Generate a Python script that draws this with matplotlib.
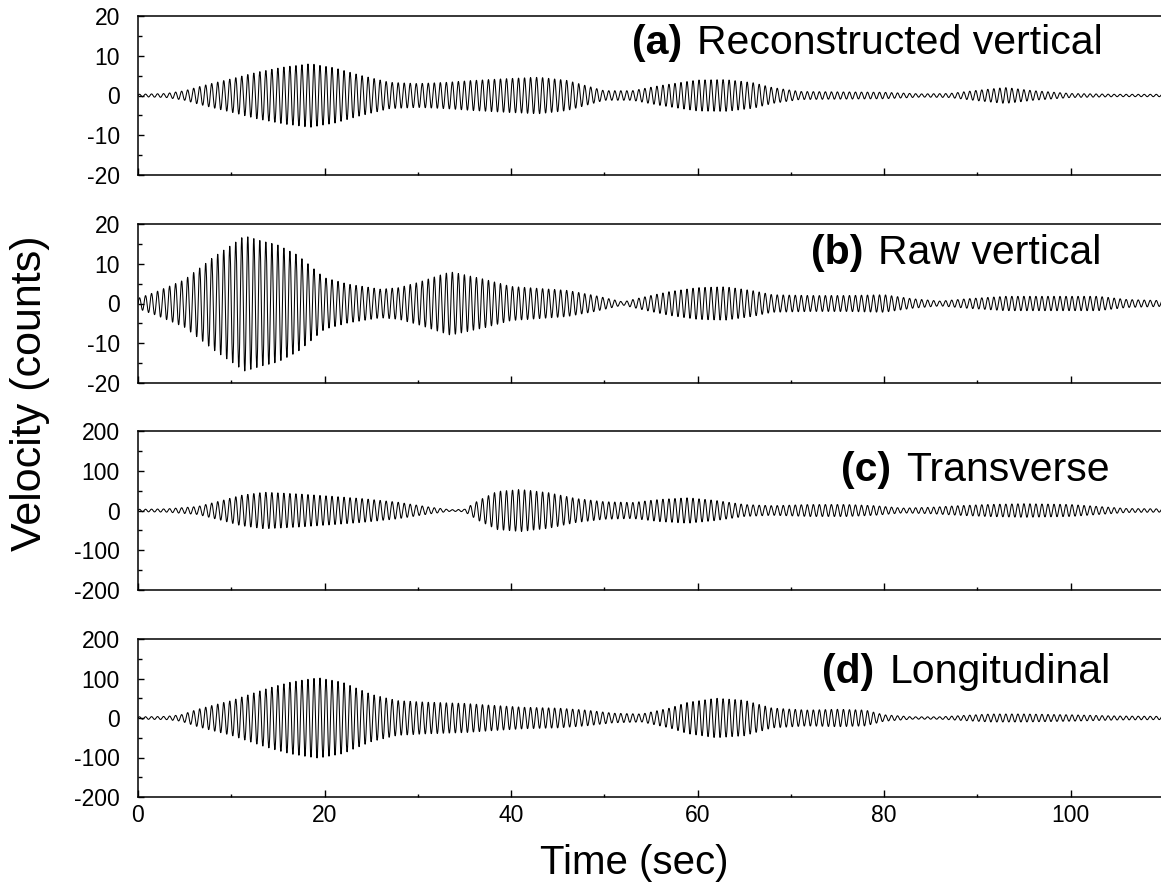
import numpy as np
import matplotlib
matplotlib.use("Agg")
import matplotlib.pyplot as plt
from matplotlib.ticker import MultipleLocator

plt.rcParams['font.family'] = ['Liberation Sans', 'DejaVu Sans']
plt.rcParams['axes.unicode_minus'] = False

# carrier of the wave trains, Hz (counted off the picture)
carrier_hz = 1.55

# envelope (half peak-to-peak amplitude), time in sec
t_a = [0, 3, 5, 7, 10, 13, 16, 18.5, 21, 24, 27, 30, 33, 36, 40, 43, 46, 48, 50,
       53, 56, 60, 63, 66, 68, 71, 75, 80, 84, 87, 90, 93, 96, 100, 105, 110]
amp_a = [0.3, 0.5, 1.2, 2.5, 4.2, 6, 7.3, 8, 7, 5, 3.3, 3, 3.3, 3.8, 4.3, 4.6, 3.8, 2.5, 1.2,
         1.2, 2.5, 3.9, 4, 3.2, 2, 1, 0.9, 0.8, 0.4, 0.5, 1.3, 2, 1.2, 0.5, 0.3, 0.3]

t_b = [0, 2, 5, 8, 11.4, 15, 17, 20, 22.5, 26, 28, 30, 33.5, 37, 40, 43, 46, 49, 52,
       54, 57, 60, 63, 66, 68, 72, 76, 80, 83, 86, 89, 93, 98, 103, 106, 110]
amp_b = [1.3, 3, 6, 11.5, 17, 14.7, 12.4, 6.5, 4.9, 3.6, 4, 5.3, 8, 6.2, 4.3, 3.8, 3.3, 2, 0.4,
         1.5, 3, 4, 4.2, 3.2, 2.2, 2, 2, 2.2, 1.2, 0.6, 1.2, 1.8, 1.8, 1.8, 1, 0.7]

t_c = [0, 3, 6.4, 9, 11, 13.5, 17, 20.7, 24, 27.8, 31.4, 33.5, 35, 36.5, 38.5, 41, 44, 47,
       50, 53, 56, 59, 62, 65, 68, 72, 76, 79, 82, 85, 88, 91, 95, 100, 103, 106, 110]
amp_c = [3, 4, 10, 25, 38, 46, 42, 36, 30, 21, 8, 2, 3, 25, 48, 53, 45, 30,
         22, 20, 28, 32, 25, 15, 12, 15, 15, 12, 6, 8, 12, 15, 17, 15, 10, 5, 4]

t_d = [0, 3, 4.6, 6.4, 8, 10, 13.6, 16.5, 19.4, 22, 25, 27.8, 31, 35, 38, 41.5, 45, 48,
       51, 54, 57, 59, 62, 65, 68, 71.7, 75, 78, 80, 83, 86, 89, 91.5, 95, 100, 105, 110]
amp_d = [3, 4, 8, 22, 32, 44, 73, 92, 102, 90, 60, 44, 40, 37, 32, 27, 25, 20,
         12, 10, 25, 40, 50, 45, 25, 20, 22, 20, 8, 3, 3, 7, 10, 10, 8, 5, 4]

panel_labels = ["(a)", "(b)", "(c)", "(d)"]
panel_names = ["Reconstructed vertical", "Raw vertical", "Transverse", "Longitudinal"]
y_limits = [20, 20, 200, 200]

envelopes = [(t_a, amp_a), (t_b, amp_b), (t_c, amp_c), (t_d, amp_d)]

W, H = 1161, 885
fig = plt.figure(figsize=(W / 100, H / 100), dpi=100)

# panel frames in pixels (top, bottom)
frames = [(16, 175), (224, 383), (431, 590), (639, 797)]
left_px = 138
# where the titles sit (axes fraction)
label_y = [0.83, 0.82, 0.755, 0.79]
label_x = [0.943, 0.942, 0.950, 0.951]

time = np.arange(0, 110, 1 / 40)
for i, (top, bot) in enumerate(frames):
    ax = fig.add_axes([left_px / W, 1 - bot / H, 1 - left_px / W, (bot - top) / H])
    tk, ak = envelopes[i]
    env = np.interp(time, tk, ak)
    ax.plot(time, env * np.sin(2 * np.pi * carrier_hz * time), color='black', lw=0.75)

    lim = y_limits[i]
    ax.set_xlim(0, 109.7)
    ax.set_ylim(-lim, lim)
    ax.xaxis.set_major_locator(MultipleLocator(20))
    ax.xaxis.set_minor_locator(MultipleLocator(10))
    ax.yaxis.set_major_locator(MultipleLocator(lim / 2))
    ax.yaxis.set_minor_locator(MultipleLocator(lim / 4))
    ax.tick_params(axis='both', which='both', direction='in', labelsize=16.5,
                   top=False, right=False, width=1)
    ax.tick_params(axis='y', which='major', length=4, pad=13)
    ax.tick_params(axis='y', which='minor', length=3)
    ax.tick_params(axis='x', which='major', length=5, pad=5)
    ax.tick_params(axis='x', which='minor', length=2.5)
    for s in ['left', 'top', 'bottom']:
        ax.spines[s].set_linewidth(1.1)
    ax.spines['right'].set_visible(False)
    if i < 3:
        ax.tick_params(axis='x', labelbottom=False)

    # plain name right-aligned, bold letter in front of it
    name = ax.text(label_x[i], label_y[i], panel_names[i], transform=ax.transAxes,
                   ha='right', va='center', fontsize=29.5)
    fig.canvas.draw()
    bb = name.get_window_extent()
    x0 = ax.transAxes.inverted().transform((bb.x0 - 15, 0))[0]
    ax.text(x0, label_y[i], panel_labels[i], transform=ax.transAxes,
            ha='right', va='center', fontsize=29.5, fontweight='bold')

fig.text(30 / W, 1 - 393 / H, "Velocity (counts)", rotation=90, ha='center', va='center',
         fontsize=31)
fig.text(634 / W, 1 - 863 / H, "Time (sec)", ha='center', va='center', fontsize=29)

fig.savefig("out.png", dpi=100)
